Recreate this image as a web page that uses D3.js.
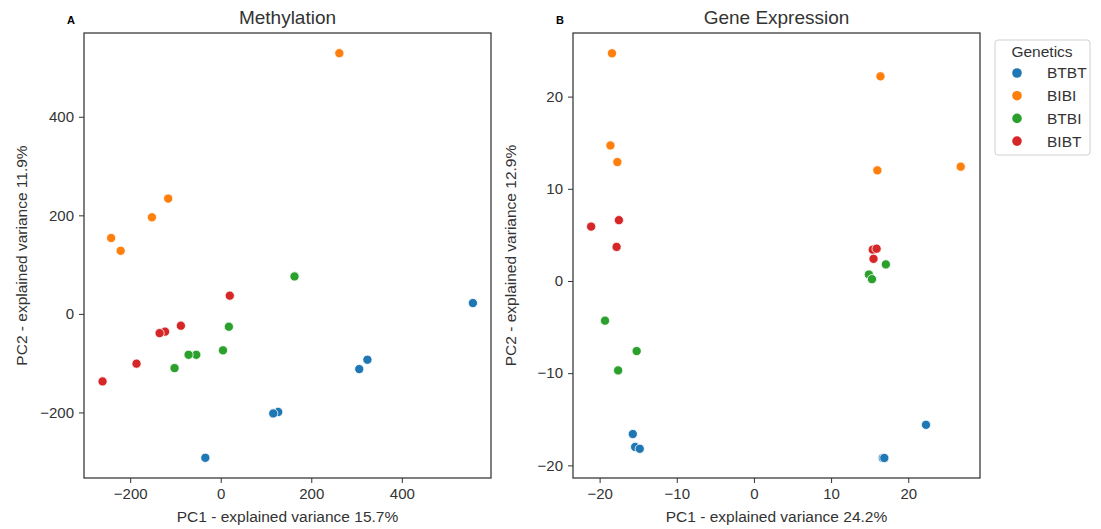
<!DOCTYPE html>
<html>
<head>
<meta charset="utf-8">
<script src="https://cdn.jsdelivr.net/npm/d3@7"></script>
<style>
  body { margin: 0; background: #fff; }
  svg { font-family: "Liberation Sans", Arial, sans-serif; }
  .tick text { fill: #333; font-size: 15px; }
  .tick line { stroke: #333; }
  .domain { display: none; }
  .frame { fill: none; stroke: #333; stroke-width: 1.25; }
  .title { fill: #333; font-size: 19px; }
  .label { fill: #333; font-size: 15.5px; }
  .panel-letter { font-size: 11px; font-weight: bold; fill: #000; }
</style>
</head>
<body>
<svg width="1101" height="529"></svg>
<script>
  // groups and colours
  const genetics = ['BTBT', 'BIBI', 'BTBI', 'BIBT'];
  const palette = ['#1f77b4', '#ff7f0e', '#2ca02c', '#d62728'];

  // methylation PCA (PC1, PC2)
  const methBTBT = [[557, 22], [324, -93], [306, -112], [127, -199], [116, -202], [-34, -292]];
  const methBIBI = [[262, 529], [-116, 234], [-152, 196], [-242, 154], [-221, 128]];
  const methBTBI = [[163, 76], [18, -26], [5, -74], [-54, -83], [-71, -83], [-102, -110]];
  const methBIBT = [[20, 37], [-88, -24], [-123, -36], [-135, -39], [-186, -101], [-261, -137]];

  // gene expression PCA (PC1, PC2)
  const exprBTBT = [[-15.7, -16.6], [-15.4, -18.0], [-14.8, -18.2], [22.3, -15.6], [16.7, -19.2], [16.9, -19.2]];
  const exprBIBI = [[-18.4, 24.7], [16.4, 22.2], [-18.6, 14.7], [-17.7, 12.9], [16.0, 12.0], [26.8, 12.4]];
  const exprBTBI = [[17.1, 1.8], [14.9, 0.7], [15.3, 0.2], [-19.3, -4.3], [-15.2, -7.6], [-17.6, -9.7]];
  const exprBIBT = [[-21.1, 5.9], [-17.5, 6.6], [-17.8, 3.7], [15.4, 3.4], [15.9, 3.5], [15.5, 2.4]];

  const methTicksX = [-200, 0, 200, 400];
  const methTicksY = [-200, 0, 200, 400];
  const exprTicksX = [-20, -10, 0, 10, 20];
  const exprTicksY = [-20, -10, 0, 10, 20];

  const color = d3.scaleOrdinal().domain(genetics).range(palette);
  const svg = d3.select('svg');
  const minus = d => d3.format('d')(d).replace('-', '\u2212');

  const panels = [
    {
      letter: 'A', title: 'Methylation', left: 84, right: 491,
      xDomain: [-302, 597], yDomain: [-333, 570],
      xTicks: methTicksX, yTicks: methTicksY,
      xLabel: 'PC1 - explained variance 15.7%',
      yLabel: 'PC2 - explained variance 11.9%',
      series: [methBTBT, methBIBI, methBTBI, methBIBT]
    },
    {
      letter: 'B', title: 'Gene Expression', left: 573, right: 980,
      xDomain: [-23.45, 29.3], yDomain: [-21.37, 26.9],
      xTicks: exprTicksX, yTicks: exprTicksY,
      xLabel: 'PC1 - explained variance 24.2%',
      yLabel: 'PC2 - explained variance 12.9%',
      series: [exprBTBT, exprBIBI, exprBTBI, exprBIBT]
    }
  ];

  const plotTop = 33, plotBottom = 478;

  panels.forEach(p => {
    const x = d3.scaleLinear().domain(p.xDomain).range([p.left, p.right]);
    const y = d3.scaleLinear().domain(p.yDomain).range([plotBottom, plotTop]);
    const g = svg.append('g');

    g.append('g')
      .attr('transform', `translate(0,${plotBottom})`)
      .call(d3.axisBottom(x).tickValues(p.xTicks).tickSize(5).tickPadding(5).tickFormat(minus));

    g.append('g')
      .attr('transform', `translate(${p.left},0)`)
      .call(d3.axisLeft(y).tickValues(p.yTicks).tickSize(5).tickPadding(5).tickFormat(minus));

    g.append('rect')
      .attr('class', 'frame')
      .attr('x', p.left).attr('y', plotTop)
      .attr('width', p.right - p.left).attr('height', plotBottom - plotTop);

    const points = [];
    p.series.forEach((s, i) => s.forEach(d => points.push({ g: genetics[i], x: d[0], y: d[1] })));

    g.selectAll('circle').data(points)
      .enter().append('circle')
        .attr('cx', d => x(d.x))
        .attr('cy', d => y(d.y))
        .attr('r', 4.6)
        .attr('fill', d => color(d.g))
        .attr('stroke', '#fff')
        .attr('stroke-width', 0.8);

    const cx = (p.left + p.right) / 2;
    g.append('text').attr('class', 'title')
      .attr('x', cx).attr('y', 24).attr('text-anchor', 'middle').text(p.title);
    g.append('text').attr('class', 'panel-letter')
      .attr('x', p.left - 17).attr('y', 24).text(p.letter);
    g.append('text').attr('class', 'label')
      .attr('x', cx).attr('y', 522).attr('text-anchor', 'middle').text(p.xLabel);
    g.append('text').attr('class', 'label')
      .attr('transform', `translate(${p.left - 57},${(plotTop + plotBottom) / 2}) rotate(-90)`)
      .attr('text-anchor', 'middle').text(p.yLabel);
  });

  // legend
  const legend = svg.append('g').attr('transform', 'translate(995,40)');
  legend.append('rect')
    .attr('width', 95).attr('height', 115).attr('rx', 3)
    .attr('fill', '#fff').attr('stroke', '#d0d0d0');
  legend.append('text').attr('class', 'label')
    .attr('x', 47).attr('y', 17).attr('text-anchor', 'middle').text('Genetics');
  const items = legend.selectAll('g.item').data(genetics)
    .enter().append('g').attr('class', 'item')
      .attr('transform', (d, i) => `translate(0,${33 + i * 22.7})`);
  items.append('circle').attr('cx', 22).attr('r', 4.8).attr('fill', d => color(d));
  items.append('text').attr('class', 'label')
    .attr('x', 52).attr('dy', '0.35em').text(d => d);
</script>
</body>
</html>
